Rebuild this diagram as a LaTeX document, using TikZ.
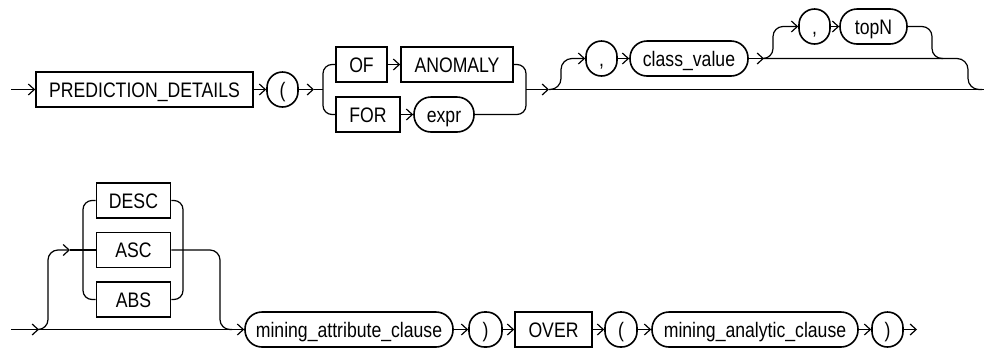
\documentclass[tikz,border=0pt]{standalone}
\usepackage{fontspec}
\setmainfont[FakeStretch=0.84]{Liberation Sans}
\usetikzlibrary{arrows.meta}
\tikzset{
  base/.style={draw=black, line width=1.6pt, inner sep=0pt, minimum height=35pt,
    text height=15pt, text depth=0pt, font=\fontsize{21}{25}\selectfont},
  kw/.style={base, rectangle},
  pill/.style={base, rectangle, rounded corners=17pt},
  sym/.style={base, rectangle, rounded corners=15.5pt, minimum width=31pt, minimum height=35pt},
  conn/.style={line width=1.2pt, black},
  arr/.style={conn, -{Straight Barb[length=6pt,width=11pt,line width=1.2pt]}},
}
\begin{document}
\begin{tikzpicture}[x=1pt,y=-1pt]
\useasboundingbox (0,0) rectangle (984,349);
% ---------- row 1 ----------
\node[kw, minimum width=217pt] (pd) at (144.5,89.5) {PREDICTION\_DETAILS};
\node[sym] (lp1) at (282.5,89.5) {(};
\node[kw, minimum width=51pt] (of) at (361.5,64.5) {OF};
\node[kw, minimum width=112pt] (anom) at (457,64.5) {ANOMALY};
\node[kw, minimum width=64pt] (for) at (368,114.5) {FOR};
\node[pill, minimum width=60pt] (expr) at (444,114.5) {expr};
\node[sym] (c1) at (601.5,58.5) {,};
\node[pill, minimum width=118pt] (cv) at (689,58.5) {class\_value};
\node[sym] (c2) at (814.5,26.5) {,};
\node[pill, minimum width=67pt] (topn) at (873.5,26.5) {topN};

\coordinate (s1) at (11,89.5);
\coordinate (a1) at (314,89.5);
\coordinate (j1) at (323,89.5);
\coordinate (j2) at (526,89.5);
\coordinate (a2) at (549,89.5);
\coordinate (e1) at (984,89.5);
\coordinate (a3) at (764,58.5);

\draw[arr] (s1) -- (pd);
\draw[arr] (pd) -- (lp1);
\draw[arr] (lp1) -- (a1);
\draw[conn] (a1) -- (j1);
\draw[conn, rounded corners=9pt] (of.west) -| (j1) |- (for.west);
\draw[arr] (of) -- (anom);
\draw[arr] (for) -- (expr);
\draw[conn, rounded corners=9pt] (anom.east) -| (j2) |- (expr.east);
\draw[arr] (j2) -- (a2);
\draw[conn] (a2) -- (e1);
\draw[arr, rounded corners=11pt] (a2) -| (561,58.5) -- (c1.west);
\draw[arr] (c1) -- (cv);
\draw[arr] (cv.east) -- (a3);
\draw[arr, rounded corners=10pt] (a3) -| (773,26.5) -- (c2.west);
\draw[arr] (c2) -- (topn);
\draw[conn, rounded corners=10pt] (topn.east) -| (932,58.5) -- (943,58.5);
\draw[conn, rounded corners=11pt] (a3) -| (968,89.5) -- (982,89.5);

% ---------- row 2 ----------
\node[kw, minimum width=74pt] (desc) at (133.5,200.5) {DESC};
\node[kw, minimum width=74pt] (asc) at (133.5,250) {ASC};
\node[kw, minimum width=74pt] (abs) at (133.5,299.5) {ABS};
\node[pill, minimum width=208pt] (mac) at (349,329.5) {mining\_attribute\_clause};
\node[sym, minimum width=33pt] (rp1) at (485.5,329.5) {)};
\node[kw, minimum width=77pt] (over) at (553.5,329.5) {OVER};
\node[sym, minimum width=32pt] (lp2) at (621,329.5) {(};
\node[pill, minimum width=206pt] (mac2) at (755,329.5) {mining\_analytic\_clause};
\node[sym] (rp2) at (887.5,329.5) {)};

\coordinate (s2) at (11,329.5);
\coordinate (a4) at (39,329.5);
\coordinate (a5) at (70,250);
\coordinate (jl) at (83,250);
\coordinate (jr) at (183,250);
\coordinate (m2) at (232,329.5);
\coordinate (e2) at (917,329.5);

\draw[arr] (s2) -- (a4);
\draw[arr] (a4) -- (mac.west);
\draw[arr, rounded corners=10pt] (a4) -| (48,250) -- (a5);
\draw[conn] (a5) -- (asc.west);
\draw[conn, rounded corners=9pt] (desc.west) -| (jl) |- (abs.west);
\draw[conn, rounded corners=9pt] (desc.east) -| (jr) |- (abs.east);
\draw[conn, rounded corners=10pt] (asc.east) -| (220,329.5) -- (m2);
\draw[arr] (mac) -- (rp1);
\draw[arr] (rp1) -- (over);
\draw[arr] (over) -- (lp2);
\draw[arr] (lp2) -- (mac2);
\draw[arr] (mac2) -- (rp2);
\draw[arr] (rp2) -- (e2);
\end{tikzpicture}
\end{document}
